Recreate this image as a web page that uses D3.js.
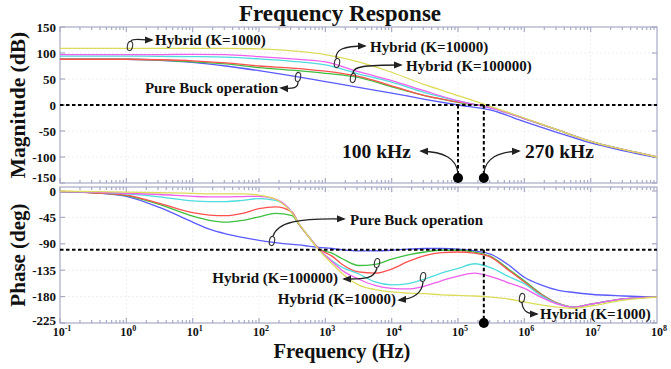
<!DOCTYPE html>
<html><head><meta charset="utf-8">
<script src="https://cdn.jsdelivr.net/npm/d3@7"></script>
<style>
html,body{margin:0;padding:0;background:#fff;}
svg text{font-family:"Liberation Serif","Times New Roman",serif;font-weight:bold;fill:#111;}
</style></head>
<body>
<svg id="chart" width="671" height="369"></svg>
<script>
// ---------- DATA ----------
const seriesNames = ["Pure Buck operation","Hybrid A (green)","Hybrid B (red)","Hybrid C (cyan)","Hybrid D (magenta)","Hybrid (K=1000)"];
const seriesColors = ["#5a5aff","#3fbf3f","#ff5050","#4fdcdc","#ee5fee","#dcdc5a"];

const magFreq = [0.1,1,3.16,10,31.6,100,316,1000,3160,1e4,3.16e4,1e5,3.16e5,1e6,3.16e6,1e7,3.16e7,1e8];
const magBlue    = [88,88,86,82,75,66,56,45,34,23,11,0,-10,-32,-53,-73,-88,-101];
const magGreen   = [88,88,86.5,83,79,72,67,61,53,35,18,5,-5,-26,-48,-70,-86,-100];
const magRed     = [88,88,87,85,81,75,71,65,55,37,18,6,-5,-26,-48,-70,-86,-100];
const magCyan    = [94,94,93.5,93,92,88.6,84,77,60,44,24,8,-6,-26,-48,-70,-86,-100];
const magMagenta = [97,97,97,97.5,97,93,88.6,83,64,47,27,8,-6,-26,-48,-70,-86,-100];
const magYellow  = [109,109,109,109,109,108,104,97,83,63,39,18,-3,-25,-48,-70,-86,-100];

const phFreq = [0.1,0.316,1,3.16,10,17.8,31.6,56.2,100,178,316,398,562,794,1260,1780,3160,5620,1e4,1.78e4,3.16e4,5.62e4,1e5,1.78e5,3.16e5,5.62e5,1e6,1.78e6,3.16e6,5.62e6,1e7,3.16e7,1e8];
const phBlue    = [-1,-3,-9,-28,-53,-65,-73,-79,-84,-88,-91,-92,-94,-96,-98,-100,-102,-102,-101,-99,-98,-98,-99,-102,-108,-125,-147,-160,-169,-173,-176,-179,-181];
const phGreen   = [-1,-3,-8,-23,-43,-50,-53,-50,-44,-38,-42,-57,-78,-98,-106,-115,-127,-125,-116,-109,-104,-101,-101,-104,-112,-132,-153,-175,-191,-198,-193,-184,-181];
const phRed     = [-1,-3,-7,-21,-37,-41,-42,-38,-30,-27,-36,-56,-78,-98,-111,-125,-138,-140,-133,-120,-110,-105,-104,-106,-113,-134,-155,-176,-191,-198,-193,-184,-181];
const phCyan    = [-1,-2,-5,-10,-17,-18,-18,-16,-13,-16,-37,-55,-78,-99,-119,-130,-141,-155,-160,-158,-150,-140,-132,-124,-131,-145,-158,-178,-192,-198,-193,-184,-181];
const phMagenta = [-1,-2,-4,-6,-9,-10,-10,-9.5,-9,-14,-37,-55,-78,-99,-120,-135,-150,-161,-166,-167,-162,-153,-145,-140,-146,-156,-166,-181,-193,-198,-193,-184,-181];
const phYellow  = [0,-1,-2,-3,-4,-5,-5,-5,-7,-14,-38,-55,-78,-100,-124,-140,-160,-168,-172,-174,-175,-177,-178,-179,-181,-184,-189,-194,-198,-200,-196,-186,-181];

const xTickExp = [-1,0,1,2,3,4,5,6,7,8];
const magTicks = [150,100,50,0,-50,-100,-150];
const phTicks  = [0,-45,-90,-135,-180,-225];
const markerFreq = [100000, 245000];
const markerLabels = ["100 kHz","270 kHz"];
const magRef = 0;      // dB dashed line
const phRef = -100;    // deg dashed line

// ---------- LAYOUT ----------
const svg = d3.select("#chart");
const L = 60, R = 657;
const magTop = 27, magBot = 183;
const phFrameTop = 187, phBot = 323;

const x = d3.scaleLog().domain([0.1,1e8]).range([L,R]);
const yMag = d3.scaleLinear().domain([-150,150]).range([magBot,magTop]);
const yPh = d3.scaleLinear().domain([0,-225]).range([191,phBot]);

const frameColor = "#a7abc6";

svg.append("rect").attr("width",671).attr("height",369).attr("fill","#fff");

// faint grid
function grid(yS, ticks, top, bot){
  const g = svg.append("g");
  ticks.forEach(t=>{ const yy=yS(t); if(yy>top+2 && yy<bot-2)
    g.append("line").attr("x1",L).attr("x2",R).attr("y1",yy).attr("y2",yy)
     .attr("stroke","#eeeef4").attr("stroke-dasharray","2,2").attr("stroke-width",1);});
  xTickExp.forEach(e=>{ const xx=x(Math.pow(10,e)); if(xx>L+2 && xx<R-2)
    g.append("line").attr("x1",xx).attr("x2",xx).attr("y1",top).attr("y2",bot)
     .attr("stroke","#f1f1f6").attr("stroke-dasharray","2,2").attr("stroke-width",1);});
}
grid(yMag, magTicks, magTop, magBot);
grid(yPh, phTicks, phFrameTop, phBot);

// frames + ticks
function frame(top, bot, yS, ticks, edgeShift){
  const g = svg.append("g").attr("stroke",frameColor).attr("fill","none").attr("stroke-width",1.2);
  g.append("rect").attr("x",L).attr("y",top).attr("width",R-L).attr("height",bot-top);
  for(let e=-1;e<8;e++){
    for(let m=1;m<10;m++){
      const xx = x(m*Math.pow(10,e));
      const len = m===1?5:3;
      g.append("line").attr("x1",xx).attr("x2",xx).attr("y1",top).attr("y2",top+len);
      g.append("line").attr("x1",xx).attr("x2",xx).attr("y1",bot).attr("y2",bot-len);
    }
  }
  ticks.forEach(t=>{const yy=yS(t);
    g.append("line").attr("x1",L).attr("x2",L+5).attr("y1",yy).attr("y2",yy);
    g.append("line").attr("x1",R).attr("x2",R-5).attr("y1",yy).attr("y2",yy);
  });
  ticks.forEach((t,i)=>{
    const shift = (i===ticks.length-1) ? edgeShift : 0;
    svg.append("text").attr("x",L-4).attr("y",yS(t)+shift).attr("dy","0.35em")
      .attr("text-anchor","end").attr("font-size",13).text(t);
  });
}
frame(magTop, magBot, yMag, magTicks, -6);
frame(phFrameTop, phBot, yPh, phTicks, -3);

// x tick labels
xTickExp.forEach(e=>{
  const t = svg.append("text").attr("x",x(Math.pow(10,e))+2).attr("y",336)
    .attr("text-anchor","middle").attr("font-size",12);
  t.append("tspan").text("10");
  t.append("tspan").attr("dy",-5).attr("font-size",8).text(String(e));
});

// curves
function drawCurves(freqs, sets, yS){
  const line = d3.line().x((d,i)=>x(freqs[i])).y(d=>yS(d)).curve(d3.curveMonotoneX);
  sets.forEach((s,k)=>{
    svg.append("path").attr("d",line(s)).attr("fill","none")
      .attr("stroke",seriesColors[k]).attr("stroke-width",1.3);
  });
}
drawCurves(magFreq,[magBlue,magGreen,magRed,magCyan,magMagenta,magYellow],yMag);
drawCurves(phFreq,[phBlue,phGreen,phRed,phCyan,phMagenta,phYellow],yPh);

// dashed reference lines
const dash = {"stroke":"#000","stroke-width":2,"stroke-dasharray":"3.5,2.5","fill":"none"};
function dl(x1,y1,x2,y2){const l=svg.append("line").attr("x1",x1).attr("y1",y1).attr("x2",x2).attr("y2",y2);
  Object.entries(dash).forEach(([k,v])=>l.attr(k,v));}
dl(L, yMag(magRef), R, yMag(magRef));
dl(L, yPh(phRef), R, yPh(phRef));
markerFreq.forEach(f=>{
  dl(x(f), yMag(magRef), x(f), 178);
  svg.append("circle").attr("cx",x(f)).attr("cy",178).attr("r",5).attr("fill","#000");
});
dl(x(markerFreq[1]), yPh(phRef), x(markerFreq[1]), 323);
svg.append("circle").attr("cx",x(markerFreq[1])).attr("cy",323).attr("r",5).attr("fill","#000");

// arrow marker
const defs = svg.append("defs");
defs.append("marker").attr("id","ah").attr("viewBox","0 0 10 10").attr("refX",8).attr("refY",5)
  .attr("markerWidth",7).attr("markerHeight",7).attr("orient","auto-start-reverse")
  .append("path").attr("d","M0,1 L10,5 L0,9 Z").attr("fill","#222");

function arrow(d){ svg.append("path").attr("d",d).attr("fill","none").attr("stroke","#222")
  .attr("stroke-width",1.3).attr("marker-end","url(#ah)"); }
function loop(cx,cy,rot){ svg.append("ellipse").attr("cx",cx).attr("cy",cy).attr("rx",2.6).attr("ry",4.6)
  .attr("transform",`rotate(${rot||0},${cx},${cy})`).attr("fill","none").attr("stroke","#333").attr("stroke-width",1.1); }
function label(tx,ty,s,size,anchor){ svg.append("text").attr("x",tx).attr("y",ty).attr("font-size",size||15)
  .attr("text-anchor",anchor||"start").text(s); }

// magnitude annotations
loop(130,46,10); arrow("M131,41 C133,38 140,40 152,40"); label(155,45,"Hybrid (K=1000)");
loop(337,63,10); arrow("M336,58 C336,50 342,46 365,46"); label(370,52,"Hybrid (K=10000)");
loop(353,78,10); arrow("M353,73 C353,67 362,65 401,65"); label(406,71,"Hybrid (K=100000)");
loop(298,77,10); arrow("M298,82 C298,88 294,89 281,88"); label(278,93,"Pure Buck operation",15,"end");
arrow(`M${x(markerFreq[0])},173 C${x(markerFreq[0])-2},158 ${x(markerFreq[0])-14},152 421,151`);
arrow(`M${x(markerFreq[1])},173 C${x(markerFreq[1])+2},158 ${x(markerFreq[1])+14},152 519,151`);
label(342,158,markerLabels[0],19.5); label(525,158,markerLabels[1],19.5);

// phase annotations
loop(272,241,10); arrow("M273,236 C278,222 298,218 344,219"); label(350,225,"Pure Buck operation");
loop(377,263,10); arrow("M377,268 C374,280 362,279 344,279"); label(338,283,"Hybrid (K=100000)",15,"end");
loop(423,277,10); arrow("M423,282 C422,295 412,299 399,300"); label(396,304,"Hybrid (K=10000)",15,"end");
loop(522,298,10); arrow("M522,303 C523,311 527,314 537,314"); label(540,319,"Hybrid (K=1000)");

// titles
label(340,21,"Frequency Response",23,"middle");
label(342,358,"Frequency (Hz)",20.5,"middle");
svg.append("text").attr("transform",`translate(25,${(magTop+magBot)/2}) rotate(-90)`)
  .attr("text-anchor","middle").attr("font-size",21.5).text("Magnitude (dB)");
svg.append("text").attr("transform",`translate(25,${(phFrameTop+phBot)/2}) rotate(-90)`)
  .attr("text-anchor","middle").attr("font-size",21).text("Phase (deg)");
</script>
</body></html>
